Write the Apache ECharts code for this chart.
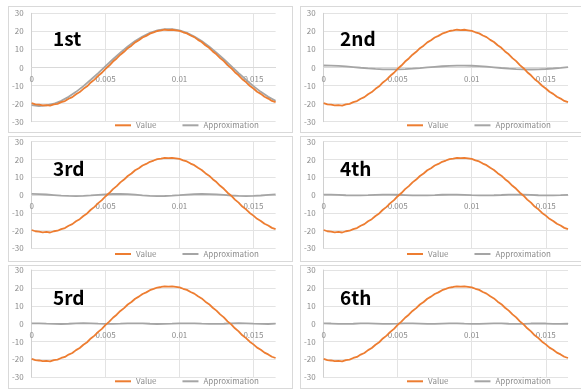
<!DOCTYPE html>
<html>
<head>
<meta charset="utf-8">
<script src="https://cdn.jsdelivr.net/npm/echarts@6/dist/echarts.min.js"></script>
<style>
html, body { margin: 0; padding: 0; background: #fff; width: 581px; height: 390px; overflow: hidden; }
.panel { position: absolute; border: 1px solid #d9d9d9; box-sizing: border-box; background: #fff; }
.panel > div { position: absolute; left: 0; top: 0; right: 0; bottom: 0; }
</style>
</head>
<body>
<div class="panel" style="left:8px;top:6px;width:285px;height:127px;"><div id="c1"></div></div>
<div class="panel" style="left:300px;top:6px;width:285px;height:127px;"><div id="c2"></div></div>
<div class="panel" style="left:8px;top:136px;width:285px;height:126px;"><div id="c3"></div></div>
<div class="panel" style="left:300px;top:136px;width:285px;height:126px;"><div id="c4"></div></div>
<div class="panel" style="left:8px;top:265px;width:285px;height:124px;"><div id="c5"></div></div>
<div class="panel" style="left:300px;top:265px;width:285px;height:124px;"><div id="c6"></div></div>
<script>
// Sample times (s) of the measured signal
const tValue = [0,0.00025,0.0005,0.00075,0.001,0.00125,0.0015,0.00175,0.002,0.00225,
  0.0025,0.00275,0.003,0.00325,0.0035,0.00375,0.004,0.00425,0.0045,0.00475,
  0.005,0.00525,0.0055,0.00575,0.006,0.00625,0.0065,0.00675,0.007,0.00725,
  0.0075,0.00775,0.008,0.00825,0.0085,0.00875,0.009,0.00925,0.0095,0.00975,
  0.01,0.01025,0.0105,0.01075,0.011,0.01125,0.0115,0.01175,0.012,0.01225,
  0.0125,0.01275,0.013,0.01325,0.0135,0.01375,0.014,0.01425,0.0145,0.01475,
  0.015,0.01525,0.0155,0.01575,0.016,0.01625,0.0165];

// Measured signal
const valueSeries = [-19.7,-20.4,-20.6,-21.0,-20.8,-21.1,-20.4,-20.1,-19.2,-18.6,
  -17.3,-16.4,-14.8,-13.6,-11.8,-10.4,-8.3,-6.7,-4.6,-2.9,
  -0.7,1.1,3.3,5.0,7.1,8.7,10.7,12.1,13.9,15.1,
  16.6,17.5,18.7,19.4,20.2,20.5,20.9,20.7,20.9,20.6,
  20.3,19.5,18.9,17.7,16.8,15.3,14.1,12.3,10.9,8.9,
  7.3,5.2,3.5,1.3,-0.4,-2.6,-4.3,-6.5,-8.1,-10.1,
  -11.6,-13.4,-14.6,-16.2,-17.2,-18.5,-19.2];

// Sample times (s) of the harmonic approximations
const tApprox = [0,0.0005,0.001,0.0015,0.002,0.0025,0.003,0.0035,0.004,0.0045,
  0.005,0.0055,0.006,0.0065,0.007,0.0075,0.008,0.0085,0.009,0.0095,
  0.01,0.0105,0.011,0.0115,0.012,0.0125,0.013,0.0135,0.014,0.0145,
  0.015,0.0155,0.016,0.0165];

const approx1st = [-20.88,-21.30,-21.02,-20.06,-18.45,-16.24,-13.49,-10.32,-6.80,-3.07,
  0.77,4.58,8.24,11.63,14.65,17.19,19.17,20.52,21.21,21.21,
  20.52,19.17,17.19,14.65,11.63,8.24,4.58,0.77,-3.07,-6.80,
  -10.32,-13.49,-16.24,-18.45];

const approx2nd = [1.10,1.04,0.86,0.58,0.24,-0.13,-0.48,-0.78,-1.00,-1.09,
  -1.07,-0.92,-0.67,-0.35,0.02,0.38,0.70,0.94,1.08,1.09,
  0.98,0.76,0.45,0.09,-0.28,-0.61,-0.88,-1.05,-1.10,-1.02,
  -0.83,-0.55,-0.20,0.17];

const approx3rd = [0.60,0.51,0.28,-0.03,-0.34,-0.54,-0.60,-0.48,-0.22,0.10,
  0.39,0.57,0.59,0.44,0.16,-0.16,-0.44,-0.59,-0.57,-0.39,
  -0.10,0.22,0.48,0.60,0.54,0.34,0.03,-0.28,-0.51,-0.60,
  -0.51,-0.28,0.03,0.34];

const approx4th = [0.25,0.19,0.03,-0.14,-0.24,-0.22,-0.09,0.08,0.22,0.24,
  0.15,-0.02,-0.18,-0.25,-0.19,-0.04,0.13,0.24,0.23,0.10,
  -0.08,-0.21,-0.25,-0.15,0.01,0.18,0.25,0.20,0.05,-0.13,
  -0.24,-0.23,-0.11,0.07];

const approx5th = [0.20,0.12,-0.04,-0.17,-0.19,-0.05,0.11,0.21,0.13,-0.03,
  -0.18,-0.18,-0.04,0.12,0.20,0.11,-0.05,-0.19,-0.17,-0.03,
  0.13,0.19,0.12,-0.04,-0.18,-0.18,-0.05,0.12,0.21,0.12,
  -0.04,-0.17,-0.19,-0.04];

const approx6th = [0.15,0.07,-0.08,-0.15,-0.06,0.10,0.15,0.04,-0.11,-0.14,
  -0.02,0.12,0.14,0.01,-0.13,-0.13,0.01,0.14,0.12,-0.02,
  -0.14,-0.11,0.04,0.15,0.10,-0.06,-0.15,-0.08,0.07,0.15,
  0.07,-0.08,-0.15,-0.06];

// Axis ticks
const xTicks = [0, 0.005, 0.01, 0.015];
const xMax = 0.0165;
const yTicks = [-30, -20, -10, 0, 10, 20, 30];

const panelTitles = ['1st', '2nd', '3rd', '4th', '5rd', '6th'];
const approxList = [approx1st, approx2nd, approx3rd, approx4th, approx5th, approx6th];
const seriesNames = ['Value', 'Approximation'];

const ORANGE = '#ED7D31';
const GRAY = '#A5A5A5';
const LABEL = '#8c8c8c';
const GRID = '#e3e3e3';
const FONT = '"Noto Sans CJK KR", "Noto Sans", sans-serif';

// Per-row plot geometry inside each panel
const rowGeom = [
  { top: 6.3, height: 108.4, legendY: 120.3 },
  { top: 4.7, height: 106.6, legendY: 119 },
  { top: 4, height: 107.3, legendY: 117.3 }
];

function pairs(ts, vs) { return ts.map((t, i) => [t, vs[i]]); }

function buildPanel(idx) {
  const row = Math.floor(idx / 2), col = idx % 2;
  const g = rowGeom[row];
  const el = document.getElementById('c' + (idx + 1));
  const chart = echarts.init(el, null, { renderer: 'canvas' });
  const splitColors = xTicks.map(() => GRID).concat(['rgba(0,0,0,0)']);
  const yMin = yTicks[0], yMax = yTicks[yTicks.length - 1];
  // the time axis runs along y = 0, i.e. this far above the grid bottom
  const zeroOffset = -g.height * (0 - yMin) / (yMax - yMin);
  chart.setOption({
    animation: false,
    textStyle: { fontFamily: FONT },
    title: {
      text: panelTitles[idx],
      left: col === 0 ? 44 : 39,
      top: 22,
      padding: 0,
      textStyle: { fontSize: 19, fontWeight: 'bold', color: '#000', fontFamily: FONT }
    },
    legend: {
      data: seriesNames,
      left: 106,
      top: g.legendY - 6,
      padding: 0,
      icon: 'rect',
      itemWidth: 16,
      itemHeight: 2,
      itemGap: 26,
      textStyle: { fontSize: 8, color: LABEL, fontFamily: FONT }
    },
    grid: {
      left: col === 0 ? 19.3 : 19.7,
      top: g.top,
      width: 247.3,
      height: g.height
    },
    xAxis: {
      type: 'value',
      position: 'bottom',
      offset: zeroOffset,
      min: xTicks[0],
      max: xMax,
      interval: xTicks[1] - xTicks[0],
      axisLine: { show: true, onZero: false, lineStyle: { color: '#d9d9d9', width: 1 } },
      axisTick: { show: false },
      axisLabel: {
        show: true, showMaxLabel: false, margin: 7,
        fontSize: 8, color: LABEL, fontFamily: FONT
      },
      splitLine: { show: true, lineStyle: { color: splitColors, width: 1 } }
    },
    yAxis: {
      type: 'value',
      min: yMin,
      max: yMax,
      interval: yTicks[1] - yTicks[0],
      axisLine: { show: true, onZero: false, lineStyle: { color: '#d0d0d0', width: 1 } },
      axisTick: { show: false },
      axisLabel: { margin: 8, fontSize: 8, color: LABEL, fontFamily: FONT },
      splitLine: { show: true, lineStyle: { color: GRID, width: 1 } }
    },
    series: [
      {
        name: seriesNames[1], type: 'line', showSymbol: false, symbol: 'none',
        data: pairs(tApprox, approxList[idx]), z: 2,
        lineStyle: { color: GRAY, width: 1.8 }, itemStyle: { color: GRAY }
      },
      {
        name: seriesNames[0], type: 'line', showSymbol: false, symbol: 'none',
        data: pairs(tValue, valueSeries), z: 3,
        lineStyle: { color: ORANGE, width: 1.8 }, itemStyle: { color: ORANGE }
      }
    ]
  });
}

for (let i = 0; i < 6; i++) buildPanel(i);
</script>
</body>
</html>
